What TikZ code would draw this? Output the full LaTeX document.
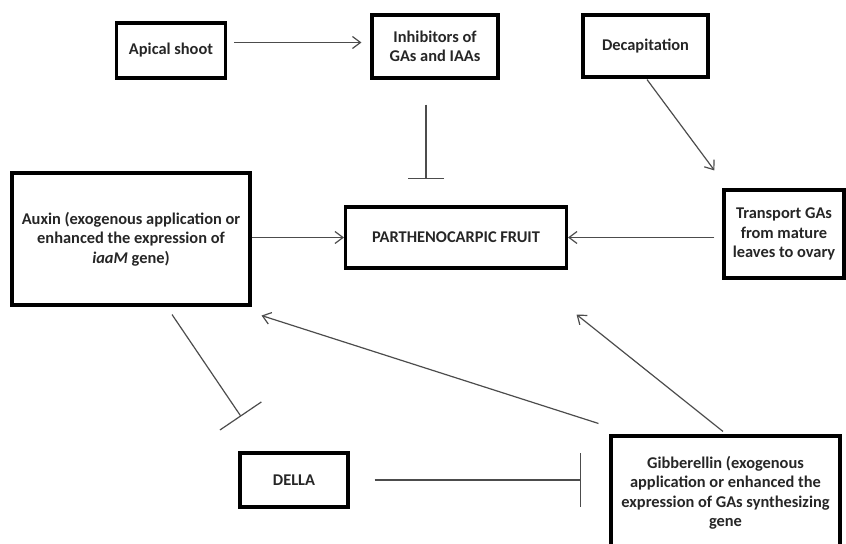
\documentclass[tikz,border=0pt]{standalone}
\usepackage{fontspec}
\setmainfont{Carlito}
\usetikzlibrary{arrows.meta,positioning}

\begin{document}
\begin{tikzpicture}[x=0.75pt,y=-0.75pt,
    box/.style={draw=black,line width=2.3pt,align=center,inner sep=0pt,
        font=\fontsize{12.3}{14.6}\selectfont\bfseries,text=black!85},
    arr/.style={draw=black!70,line width=0.9pt,-{Straight Barb[length=6pt,width=9pt]}},
    inh/.style={draw=black!70,line width=0.9pt}]
\clip (0,0) rectangle (846,543);
\node[box,minimum width=81.75pt,minimum height=41.25pt] (apical) at (171,50.5) {Apical shoot};
\node[box,minimum width=94.5pt,minimum height=47.25pt] (inhib) at (435,46.5) {Inhibitors of\\GAs and IAAs};
\node[box,minimum width=93.75pt,minimum height=46.5pt] (decap) at (645.5,46) {Decapitation};
\node[box,minimum width=178.5pt,minimum height=99pt] (aux) at (131,239) {Auxin (exogenous application or\\enhanced the expression of\\\textit{iaaM} gene)};
\node[box,minimum width=165.75pt,minimum height=45.75pt] (pf) at (456,237.5) {PARTHENOCARPIC FRUIT};
\node[box,minimum width=90pt,minimum height=66pt] (trans) at (784,234) {Transport GAs\\from mature\\leaves to ovary};
\node[box,minimum width=81pt,minimum height=40.5pt] (della) at (294,480) {DELLA};
\node[box,minimum width=171.75pt,minimum height=85.5pt] (gib) at (725.5,493) {Gibberellin (exogenous\\application or enhanced the\\expression of GAs synthesizing\\gene};

% activation
\coordinate (a1) at ([shift={(7,-8)}]apical.east);
\coordinate (a2) at (a1 -| inhib.west);
\draw[arr,shorten >=6.75pt] (a1) -- (a2);
\draw[arr] (pf.west -| aux.east) -- (pf.west);
\draw[arr,shorten <=6pt] (pf.east -| trans.west) -- (pf.east);
\draw[arr] ([shift={(1.5,1)}]decap.south) -- ([shift={(-8,-18)}]trans.north west);
\draw[arr] ([shift={(-11,-11)}]gib.north west) -- ([shift={(10,9)}]aux.south east);
\draw[arr] ([shift={(-2.5,-3)}]gib.north) -- ([shift={(8.5,45)}]pf.south east);

% inhibition
\draw[inh,-{Bar[width=27pt]}] ([shift={(-9,25)}]inhib.south) -- ([shift={(-30,-26)}]pf.north);
\draw[inh,-{Bar[width=37.5pt]}] ([shift={(41,8)}]aux.south) -- ([shift={(-53,-35)}]della.north);
\coordinate (d1) at ([shift={(25,0)}]della.east);
\coordinate (d2) at (d1 -| gib.west);
\draw[inh,-{Bar[width=40.5pt]},shorten >=21pt] (d1) -- (d2);
\end{tikzpicture}
\end{document}
